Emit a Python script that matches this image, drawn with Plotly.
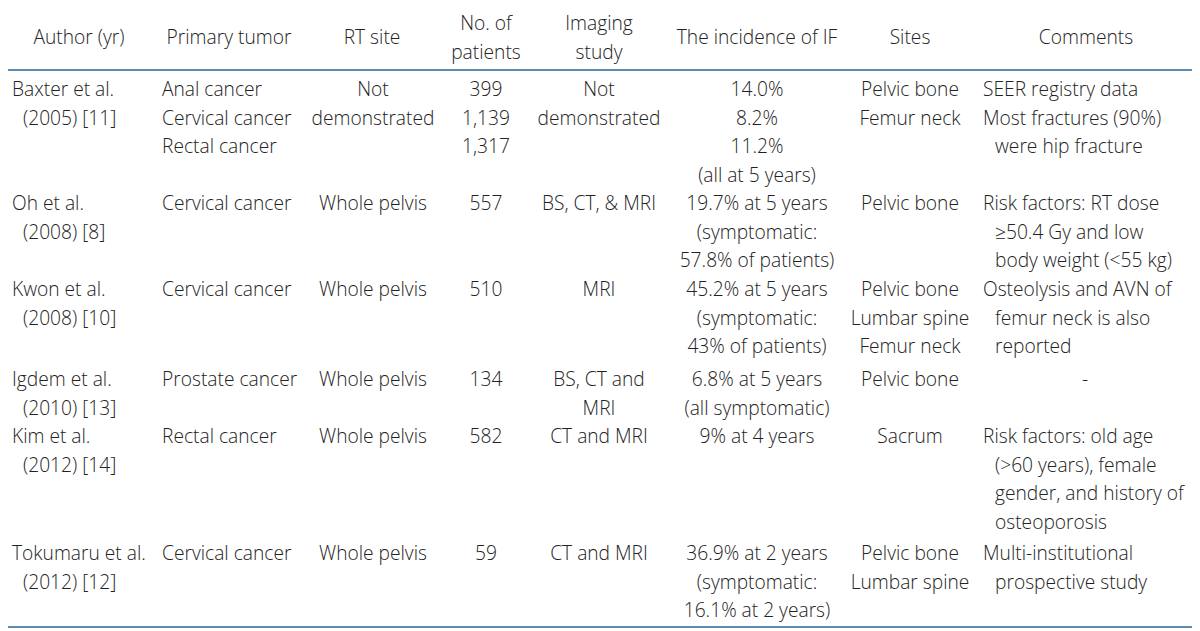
import plotly.graph_objects as go

# ---------------- data ----------------
# "\n" separates paragraphs inside a cell, "<br>" marks a wrapped continuation line
headers = ["Author (yr)", "Primary tumor", "RT site", "No. of<br>patients",
           "Imaging<br>study", "The incidence of IF", "Sites", "Comments"]

authors = ["Baxter et al.<br>(2005) [11]", "Oh et al.<br>(2008) [8]", "Kwon et al.<br>(2008) [10]",
           "Igdem et al.<br>(2010) [13]", "Kim et al.<br>(2012) [14]", "Tokumaru et al.<br>(2012) [12]"]
primary_tumor = ["Anal cancer\nCervical cancer\nRectal cancer", "Cervical cancer", "Cervical cancer",
                 "Prostate cancer", "Rectal cancer", "Cervical cancer"]
rt_site = ["Not\ndemonstrated", "Whole pelvis", "Whole pelvis", "Whole pelvis", "Whole pelvis", "Whole pelvis"]
n_patients = ["399\n1,139\n1,317", "557", "510", "134", "582", "59"]
imaging = ["Not\ndemonstrated", "BS, CT, &amp; MRI", "MRI", "BS, CT and\nMRI", "CT and MRI", "CT and MRI"]
incidence = ["14.0%\n8.2%\n11.2%\n(all at 5 years)",
             "19.7% at 5 years\n(symptomatic:\n57.8% of patients)",
             "45.2% at 5 years\n(symptomatic:\n43% of patients)",
             "6.8% at 5 years\n(all symptomatic)",
             "9% at 4 years",
             "36.9% at 2 years\n(symptomatic:\n16.1% at 2 years)"]
sites = ["Pelvic bone\nFemur neck", "Pelvic bone", "Pelvic bone\nLumbar spine\nFemur neck",
         "Pelvic bone", "Sacrum", "Pelvic bone\nLumbar spine"]
comments = ["SEER registry data\nMost fractures (90%)<br>were hip fracture",
            "Risk factors: RT dose<br>≥50.4 Gy and low<br>body weight (&lt;55 kg)",
            "Osteolysis and AVN of<br>femur neck is also<br>reported",
            "-",
            "Risk factors: old age<br>(&gt;60 years), female<br>gender, and history of<br>osteoporosis",
            "Multi-institutional<br>prospective study"]

columns = [authors, primary_tumor, rt_site, n_patients, imaging, incidence, sites, comments]

# ---------------- layout / style ----------------
W, H = 1200, 631
PAGE_OFF = 8          # default body margin of the html page
FONT = "Open Sans, Noto Sans, sans-serif"
FS = 19.2
TXT = "#222222"
RULE = "#5b8db3"

header_x = [79, 229, 372, 486, 599, 757, 910, 1086]
header_y = 39.5
# (anchor x, align, hanging indent)
col_style = [(12, "left", 11), (162, "left", 0), (373, "center", 0), (486, "center", 0),
             (599, "center", 0), (757, "center", 0), (910, "center", 0), (983, "left", 12)]
dash_center = 1085
row_top = [91.5, 205.5, 291.5, 381.5, 438.5, 555.5]
LINE_H = 28.5

left = dict(x=[], y=[], t=[])
center = dict(x=[], y=[], t=[])

for ci, col in enumerate(columns):
    ax, align, indent = col_style[ci]
    for ri, cell in enumerate(col):
        k = 0
        for para in cell.split("\n"):
            for li, line in enumerate(para.split("<br>")):
                y = row_top[ri] + k * LINE_H
                if line == "-":
                    center["x"].append(dash_center); center["y"].append(y); center["t"].append(line)
                elif align == "left":
                    left["x"].append(ax + (indent if li > 0 else 0)); left["y"].append(y); left["t"].append(line)
                else:
                    center["x"].append(ax); center["y"].append(y); center["t"].append(line)
                k += 1

hx, hy, ht = [], [], []
for i, h in enumerate(headers):
    parts = h.split("<br>")
    n = len(parts)
    for j, p in enumerate(parts):
        hx.append(header_x[i])
        hy.append(header_y + (j - (n - 1) / 2) * LINE_H)
        ht.append(p)

fig = go.Figure()
tf = dict(family=FONT, size=FS, color=TXT, weight=300)
fig.add_trace(go.Scatter(x=hx, y=hy, text=ht, mode="text", textposition="middle center",
                         textfont=tf, hoverinfo="skip", showlegend=False))
fig.add_trace(go.Scatter(x=center["x"], y=center["y"], text=center["t"], mode="text",
                         textposition="middle center", textfont=tf, hoverinfo="skip", showlegend=False))
fig.add_trace(go.Scatter(x=left["x"], y=left["y"], text=left["t"], mode="text",
                         textposition="middle right", textfont=tf, hoverinfo="skip", showlegend=False))

for yv in [5, 70, 627]:
    fig.add_shape(type="line", x0=4, x1=1194, y0=yv, y1=yv, xref="x", yref="y",
                  line=dict(color=RULE, width=2))

fig.update_layout(
    width=W, height=H, margin=dict(l=0, r=0, t=0, b=0),
    paper_bgcolor="white", plot_bgcolor="white",
    xaxis=dict(range=[PAGE_OFF, W + PAGE_OFF], visible=False, fixedrange=True),
    yaxis=dict(range=[H + PAGE_OFF, PAGE_OFF], visible=False, fixedrange=True),
)
fig.write_html("out.html")
